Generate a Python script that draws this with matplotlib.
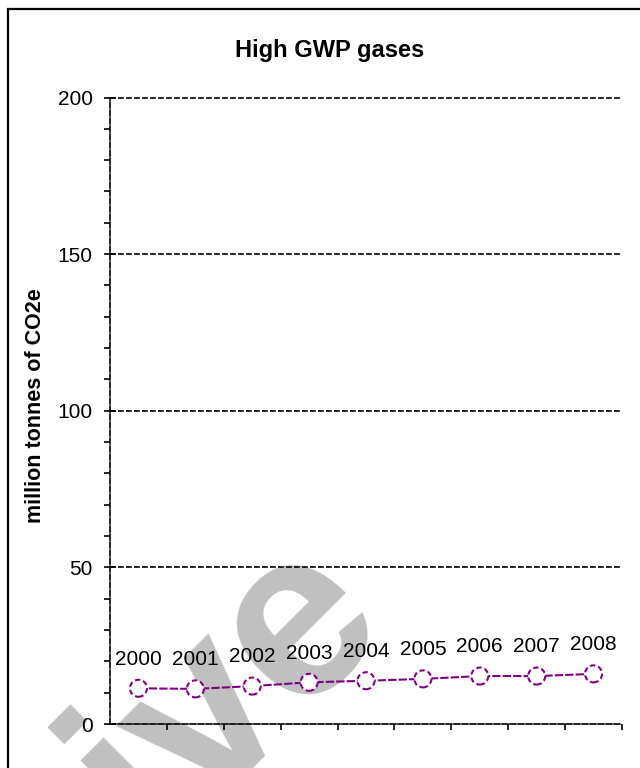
import matplotlib
matplotlib.use("Agg")
import matplotlib.pyplot as plt
from matplotlib.patches import Rectangle
from matplotlib.ticker import MultipleLocator

years = ['2000', '2001', '2002', '2003', '2004', '2005', '2006', '2007', '2008']
values = [11.4, 11.2, 12.1, 13.3, 13.8, 14.4, 15.3, 15.3, 16.0]

plt.rcParams['font.family'] = ['Liberation Sans', 'DejaVu Sans']

fig = plt.figure(figsize=(6.4, 7.68), dpi=100)

# grey watermark behind the chart
fig.text(0.24, -0.108, 'ive', fontsize=172, fontweight='bold', color='#c0c0c0',
         rotation=45, rotation_mode='anchor', ha='left', va='baseline', zorder=-1)

# chart border
fig.patches.append(Rectangle((8 / 640, -0.1), 2, 1.1 - 9 / 768, transform=fig.transFigure,
                             fill=False, edgecolor='black', linewidth=1.6, zorder=5))

ax = fig.add_axes([110 / 640, 1 - 724 / 768, 512 / 640, (724 - 97.5) / 768])
ax.patch.set_alpha(0)

x = list(range(len(years)))
ax.plot(x, values, color='#800080', linewidth=1.5, dashes=(4, 1), zorder=3)
ax.scatter(x, values, s=150, facecolors='white', edgecolors='#800080',
           linewidths=1.5, linestyle=(0, (2.5, 1.5)), zorder=4)
for xi, v, lab in zip(x, values, years):
    ax.annotate(lab, (xi, v), xytext=(0, 21), textcoords='offset points',
                ha='center', va='center', fontsize=15, zorder=5)

ax.set_xlim(-0.5, 8.5)
ax.set_ylim(0, 200)

ax.yaxis.set_major_locator(MultipleLocator(50))
ax.yaxis.set_minor_locator(MultipleLocator(10))
ax.set_xticks([i - 0.5 for i in range(1, 10)])
ax.set_xticklabels([])
ax.tick_params(axis='y', which='major', direction='inout', length=9, width=1.2,
               labelsize=15, pad=8)
ax.tick_params(axis='y', which='minor', direction='out', length=4, width=1.2)
ax.tick_params(axis='x', which='major', direction='out', length=4, width=1.2)

for yv in [50, 100, 150, 200]:
    ax.axhline(yv, color='black', linewidth=1.2, dashes=(3.5, 1.3), zorder=1, clip_on=False)

for s in ['top', 'right']:
    ax.spines[s].set_visible(False)
for s in ['left', 'bottom']:
    ax.spines[s].set_linestyle((0, (3.5, 1.3)))
    ax.spines[s].set_linewidth(1.2)

fig.text(330 / 640, 1 - 51 / 768, 'High GWP gases', fontsize=17, fontweight='bold',
         ha='center', va='center')
fig.text(36 / 640, 1 - 406 / 768, 'million tonnes of CO2e', fontsize=15.5,
         fontweight='bold', rotation=90, ha='center', va='center')

fig.savefig('out.png', dpi=100)
